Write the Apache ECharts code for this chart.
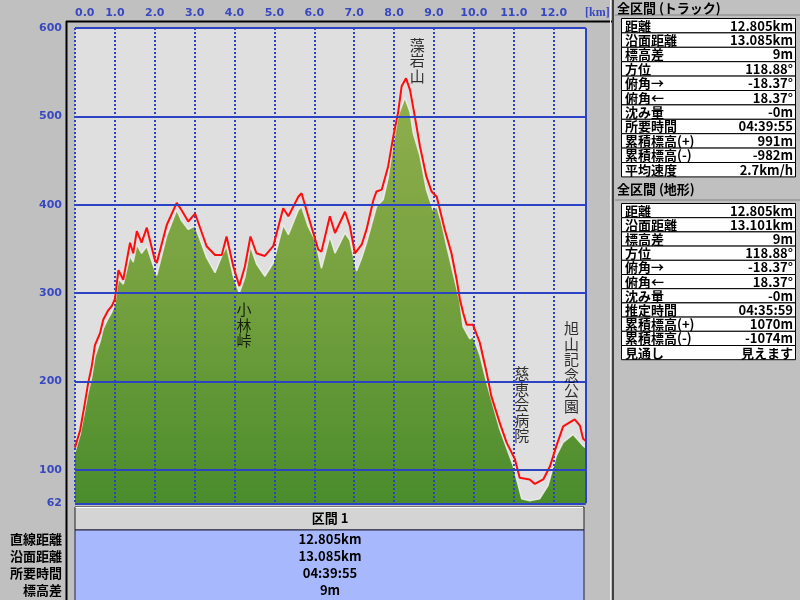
<!DOCTYPE html>
<html><head><meta charset="utf-8">
<script src="https://cdn.jsdelivr.net/npm/echarts@6/dist/echarts.min.js"></script>
<style>html,body{margin:0;padding:0;background:#c0c0c0}#c{width:800px;height:600px}</style>
</head><body><div id="c"></div>
<script>
// ---- data ----
const xTickValues = [0,1,2,3,4,5,6,7,8,9,10,11,12];
const yTickValues = [62,100,200,300,400,500,600];
const totalKm = 12.805;

const trackKm   = [0.00,0.13,0.25,0.33,0.42,0.50,0.63,0.71,0.84,0.92,1.00,1.09,1.21,1.38,1.46,1.55,1.67,1.80,2.00,2.05,2.30,2.55,2.67,2.84,3.01,3.30,3.51,3.68,3.80,3.97,4.12,4.26,4.40,4.55,4.76,4.97,5.22,5.35,5.60,5.68,5.85,6.10,6.18,6.39,6.52,6.77,6.89,7.02,7.19,7.31,7.48,7.56,7.69,7.85,7.98,8.10,8.19,8.30,8.40,8.52,8.65,8.81,8.94,9.07,9.27,9.44,9.57,9.65,9.73,9.82,9.98,10.15,10.32,10.44,10.65,10.82,11.03,11.15,11.40,11.53,11.74,11.91,12.07,12.24,12.53,12.66,12.74,12.80];
const trackElev = [125,145,176,198,217,241,255,270,281,285,293,326,315,357,345,370,357,374,338,334,377,402,394,381,390,353,343,343,364,330,308,330,364,345,342,353,396,387,409,413,387,349,347,387,368,392,376,345,355,372,405,415,417,443,477,504,534,543,530,500,466,432,415,409,372,345,315,293,278,264,264,244,210,183,153,131,112,91,89,84,89,104,127,149,157,150,135,133];

const terrainKm   = [0.00,0.13,0.25,0.33,0.42,0.50,0.63,0.71,0.84,0.92,1.00,1.09,1.21,1.38,1.46,1.55,1.67,1.80,2.00,2.05,2.30,2.55,2.67,2.84,3.01,3.30,3.51,3.68,3.80,3.97,4.12,4.26,4.40,4.55,4.76,4.97,5.22,5.35,5.60,5.68,5.85,6.02,6.18,6.39,6.52,6.77,6.89,7.06,7.19,7.31,7.56,7.73,7.85,7.98,8.10,8.27,8.40,8.48,8.65,8.81,8.98,9.07,9.19,9.32,9.52,9.65,9.73,9.90,9.98,10.15,10.32,10.65,10.99,11.20,11.40,11.65,11.86,12.07,12.24,12.49,12.74,12.80];
const terrainElev = [120,140,168,188,205,228,245,260,272,278,288,316,310,342,335,355,345,353,326,320,365,394,382,372,376,340,323,342,353,319,300,318,353,333,319,334,377,366,394,398,375,360,328,364,345,368,360,325,340,357,398,406,430,470,500,521,505,481,455,417,394,398,380,353,315,290,262,248,251,230,199,146,104,67,65,67,82,116,131,140,127,125];

const placeNames = ['藻岩山','小林峠','慈恵会病院','旭山記念公園'];
const placeKm    = [8.58,4.24,11.20,12.45];
const placeElev  = [563,264,174,216];

const trackTitle = '全区間 (トラック)';
const trackLabels = ['距離','沿面距離','標高差','方位','俯角→','俯角←','沈み量','所要時間','累積標高(+)','累積標高(-)','平均速度'];
const trackValues = ['12.805km','13.085km','9m','118.88°','-18.37°','18.37°','-0m','04:39:55','991m','-982m','2.7km/h'];
const terrainTitle = '全区間 (地形)';
const terrainLabels = ['距離','沿面距離','標高差','方位','俯角→','俯角←','沈み量','推定時間','累積標高(+)','累積標高(-)','見通し'];
const terrainValues = ['12.805km','13.101km','9m','118.88°','-18.37°','18.37°','-0m','04:35:59','1070m','-1074m','見えます'];
const sectionTitle = '区間 1';
const sectionLabels = ['直線距離','沿面距離','所要時間','標高差'];
const sectionValues = ['12.805km','13.085km','04:39:55','9m'];

// ---- styles ----
const BLUE = '#2c44c4';
const LBLUE = '#3848c0';
const CJK = '"Noto Sans CJK JP", sans-serif';
const NUMF = '"DejaVu Sans", sans-serif';

const track = trackKm.map((k,i)=>[k,trackElev[i]]);
const terrain = terrainKm.map((k,i)=>[k,terrainElev[i]]);
const places = placeNames.map((n,i)=>({name:n, value:[placeKm[i], placeElev[i]]}));

const G = [];
function txt(x,y,t,opt){ G.push(Object.assign({type:'text', x, y, z:10, style:Object.assign({text:t, font:'bold 13px '+CJK, fill:'#000', align:'left', verticalAlign:'middle'}, opt||{})})); }
function rect(x,y,w,h,fill,stroke,lw,z){ G.push({type:'rect', z:z||1, shape:{x,y,width:w,height:h}, style:{fill, stroke:stroke||null, lineWidth:lw||0}}); }
function line(x1,y1,x2,y2,stroke,lw,z){ G.push({type:'line', z:z||5, shape:{x1,y1,x2,y2}, style:{stroke, lineWidth:lw}}); }

// frames
line(66.5,21,66.5,600,'#000',2);
line(66,21.5,612,21.5,'#000',2);
line(610.5,0,610.5,600,'#f0f0f0',1);
line(613,0,613,600,'#404040',2);

// right tables
function table(title, titleY, top, rowH, labels, values){
  txt(617, titleY, title, {font:'bold 13px '+CJK});
  line(615, top-3.5, 800, top-3.5, '#808080', 1);
  labels.forEach((l,i)=>{
    const y = top + i*rowH;
    rect(621.5, y, 174, rowH, '#ffffff', '#000', 1, 2);
    txt(625, y+rowH/2, l);
    txt(793, y+rowH/2, values[i], {align:'right'});
  });
}
table(trackTitle, 8, 18.5, 14.4, trackLabels, trackValues);
table(terrainTitle, 189, 203.5, 14.2, terrainLabels, terrainValues);

// bottom section table
rect(75, 507, 509, 23, '#d4d4d4', '#202020', 1, 2);
line(75.5,507.5,583,507.5,'#ffffff',1,3);
txt(330, 518.5, sectionTitle, {align:'center'});
rect(75, 530, 509, 72, '#a8b8fc', '#202040', 1, 2);
sectionLabels.forEach((l,i)=>{
  const y = 539 + i*17;
  txt(62, y, l, {align:'right'});
  txt(330, y, sectionValues[i], {align:'center'});
});
// axis unit
txt(585, 13, '[km]', {font:'bold 12px "Liberation Serif", serif', fill:LBLUE});

const chart = echarts.init(document.getElementById('c'), null, {renderer:'canvas'});
chart.setOption({
  animation:false,
  backgroundColor:'#c0c0c0',
  grid:{left:75, right:214.3, top:28, bottom:96.7, show:true, backgroundColor:'#dfdfdf', borderWidth:0},
  xAxis:{type:'value', position:'top', min:0, max:totalKm, interval:1, z:3,
    axisLine:{show:false}, axisTick:{show:false},
    axisLabel:{margin:9, color:LBLUE, fontWeight:'bold', fontSize:11, fontFamily:NUMF,
      showMaxLabel:false, alignMinLabel:'left',
      formatter:v=> xTickValues.includes(v) ? v.toFixed(1) : ''},
    splitLine:{show:true, lineStyle:{color:BLUE, width:2, type:[2,2]}}},
  yAxis:{type:'value', min:yTickValues[0], max:yTickValues[yTickValues.length-1], z:3,
    axisLine:{show:false}, axisTick:{show:false}, splitLine:{show:false},
    axisLabel:{margin:13, color:LBLUE, fontWeight:'bold', fontSize:11, fontFamily:NUMF,
      customValues:yTickValues, showMinLabel:true, showMaxLabel:true}},
  graphic:{elements:G},
  series:[
    {type:'line', name:'地形', data:terrain, symbol:'none', z:2, silent:true,
      lineStyle:{color:'#f2f2f2', width:1.5, opacity:0.8},
      areaStyle:{origin:'start', opacity:1, color:new echarts.graphic.LinearGradient(0,0,0,1,[
        {offset:0,color:'#8fae4c'},{offset:0.5,color:'#74a03e'},{offset:1,color:'#4a8c2c'}])}},
    {type:'line', name:'grid', data:terrain, symbol:'none', z:3, silent:true,
      lineStyle:{opacity:0, width:0},
      markLine:{symbol:'none', silent:true, label:{show:false}, animation:false,
        lineStyle:{color:BLUE, width:2, type:'solid'},
        data: yTickValues.map(v=>({yAxis:v})).concat([{xAxis:totalKm}])}},
    {type:'line', name:'トラック', data:track, symbol:'none', z:4, silent:true,
      lineStyle:{color:'#ff0d0d', width:2}},
    {type:'scatter', name:'地名', data:places, symbolSize:0, z:5, silent:true,
      label:{show:true, position:'inside', formatter:p=>p.name.split('').join('\n'),
        color:'#000', fontSize:15, lineHeight:15.5, fontFamily:CJK}}
  ]
});
</script></body></html>
